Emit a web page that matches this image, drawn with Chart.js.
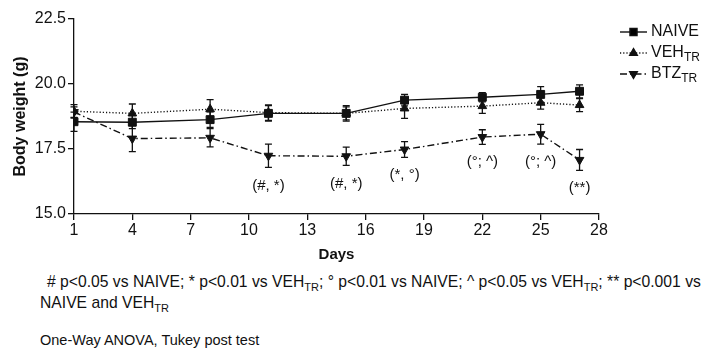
<!DOCTYPE html>
<html>
<head>
<meta charset="utf-8">
<script src="https://cdn.jsdelivr.net/npm/chart.js@4"></script>
<style>
  html, body { margin: 0; padding: 0; background: #fff; }
  body { width: 704px; height: 350px; position: relative; overflow: hidden; font-family: "Liberation Sans", Arial, sans-serif; color: #111; }
  #wrap { position: absolute; left: 0; top: 0; width: 704px; height: 264px; }
  .note { position: absolute; left: 40px; color: #111; }
  .note sub { font-size: 11px; vertical-align: -4px; line-height: 0; }
  #n1 { top: 271px; font-size: 15.7px; line-height: 21px; white-space: nowrap; }
  #n1 .first { padding-left: 7px; }
  #n2 { top: 330px; font-size: 14.5px; line-height: 20px; }
</style>
</head>
<body>
<div id="wrap"><canvas id="c" width="704" height="264"></canvas></div>
<div class="note" id="n1"><span class="first"># p&lt;0.05 vs NAIVE; * p&lt;0.01 vs VEH<sub>TR</sub>; ° p&lt;0.01 vs NAIVE; ^ p&lt;0.05 vs VEH<sub>TR</sub>; ** p&lt;0.001 vs</span><br>NAIVE and VEH<sub>TR</sub></div>
<div class="note" id="n2">One-Way ANOVA, Tukey post test</div>
<script>
const days = [1, 4, 8, 11, 15, 18, 22, 25, 27];
const naive = [18.55, 18.53, 18.63, 18.87, 18.87, 19.38, 19.49, 19.6, 19.72];
const veh   = [18.95, 18.87, 19.03, 18.9, 18.87, 19.06, 19.15, 19.28, 19.19];
const btz   = [18.92, 17.9, 17.93, 17.24, 17.22, 17.48, 17.96, 18.07, 17.08];
const naiveErr = [0.37, 0.25, 0.3, 0.3, 0.25, 0.22, 0.18, 0.3, 0.25];
const vehErr   = [0.26, 0.36, 0.37, 0.3, 0.3, 0.38, 0.28, 0.25, 0.25];
const btzErr   = [0.2, 0.5, 0.35, 0.45, 0.35, 0.3, 0.28, 0.38, 0.4];
const btzMarks = ["", "", "", "(#, *)", "(#, *)", "(*, °)", "(°; ^)", "(°; ^)", "(**)"];
const xTicks = [1, 4, 7, 10, 13, 16, 19, 22, 25, 28];
const yTicks = [15.0, 17.5, 20.0, 22.5];
const seriesNames = [["NAIVE", ""], ["VEH", "TR"], ["BTZ", "TR"]];

const FONT = '"Liberation Sans", Arial, sans-serif';
const INK = '#111';

function pts(arr) { return days.map((d, i) => ({ x: d, y: arr[i] })); }

const datasets = [
  { label: 'NAIVE', data: pts(naive), err: naiveErr, borderColor: INK, backgroundColor: INK, borderWidth: 1.4,
    borderDash: [], pointStyle: 'rect', pointRadius: 5.6, pointRotation: 0 },
  { label: 'VEH_TR', data: pts(veh), err: vehErr, borderColor: INK, backgroundColor: INK, borderWidth: 1.4,
    borderDash: [1.2, 2], pointStyle: 'triangle', pointRadius: 5, pointRotation: 0 },
  { label: 'BTZ_TR', data: pts(btz), err: btzErr, borderColor: INK, backgroundColor: INK, borderWidth: 1.4,
    borderDash: [7, 3, 1.5, 3], pointStyle: 'triangle', pointRadius: 5, pointRotation: 180 }
];
datasets.forEach(d => { d.fill = false; d.tension = 0; d.pointBorderWidth = 1; d.pointBorderColor = INK; d.pointBackgroundColor = INK; });

const errorBars = {
  id: 'errorBars',
  beforeDatasetsDraw(chart) {
    const { ctx, scales: { x, y } } = chart;
    ctx.save();
    ctx.strokeStyle = INK;
    ctx.lineWidth = 1.3;
    ctx.setLineDash([]);
    chart.data.datasets.forEach(ds => {
      ds.data.forEach((p, i) => {
        const px = x.getPixelForValue(p.x);
        const top = y.getPixelForValue(p.y + ds.err[i]);
        const bot = y.getPixelForValue(p.y - ds.err[i]);
        ctx.beginPath();
        ctx.moveTo(px, top); ctx.lineTo(px, bot);
        ctx.moveTo(px - 3.5, top); ctx.lineTo(px + 3.5, top);
        ctx.moveTo(px - 3.5, bot); ctx.lineTo(px + 3.5, bot);
        ctx.stroke();
      });
    });
    ctx.restore();
  }
};

const sigLabels = {
  id: 'sigLabels',
  afterDatasetsDraw(chart) {
    const { ctx, scales: { x, y } } = chart;
    ctx.save();
    ctx.fillStyle = INK;
    ctx.font = '15px ' + FONT;
    ctx.textAlign = 'center';
    ctx.textBaseline = 'middle';
    btzMarks.forEach((t, i) => {
      if (!t) return;
      const px = x.getPixelForValue(days[i]);
      const py = y.getPixelForValue(btz[i] - btzErr[i]) + 18;
      ctx.fillText(t, px, py);
    });
    ctx.restore();
  }
};

const sideLegend = {
  id: 'sideLegend',
  afterDraw(chart) {
    const { ctx } = chart;
    ctx.save();
    const x0 = 620, x1 = 647, tx = 651;
    const ys = [32, 53, 74];
    chart.data.datasets.forEach((ds, i) => {
      const yy = ys[i];
      ctx.strokeStyle = INK;
      ctx.lineWidth = ds.borderWidth;
      ctx.setLineDash(ds.borderDash);
      ctx.beginPath(); ctx.moveTo(x0, yy); ctx.lineTo(x1, yy); ctx.stroke();
      ctx.setLineDash([]);
      Chart.helpers.drawPoint(ctx, { pointStyle: ds.pointStyle, rotation: ds.pointRotation, radius: ds.pointRadius - 0.6, borderWidth: 1 }, (x0 + x1) / 2, yy);
      ctx.fillStyle = INK;
      ctx.textBaseline = 'middle';
      ctx.textAlign = 'left';
      ctx.font = '16px ' + FONT;
      const [main, sub] = seriesNames[i];
      ctx.fillText(main, tx, yy);
      if (sub) {
        const w = ctx.measureText(main).width;
        ctx.font = '12px ' + FONT;
        ctx.fillText(sub, tx + w, yy + 5);
      }
    });
    ctx.restore();
  }
};

new Chart(document.getElementById('c'), {
  type: 'line',
  data: { datasets },
  plugins: [errorBars, sigLabels, sideLegend],
  options: {
    responsive: false,
    animation: false,
    layout: { padding: { top: 19, right: 105, left: 0, bottom: 0 } },
    plugins: { legend: { display: false }, tooltip: { enabled: false } },
    elements: { point: { hoverRadius: 5 } },
    scales: {
      x: {
        type: 'linear', min: 1, max: 28,
        afterBuildTicks: s => { s.ticks = xTicks.map(v => ({ value: v })); },
        afterFit: s => { s.height = 50; },
        ticks: { color: INK, font: { family: FONT, size: 16 }, padding: 1, maxRotation: 0, autoSkip: false },
        grid: { drawOnChartArea: false, drawTicks: true, tickLength: 6, color: INK, lineWidth: 1.3 },
        border: { display: true, color: INK, width: 1.3 },
        title: { display: true, text: 'Days', color: INK, font: { family: FONT, size: 15, weight: 'bold' }, padding: { top: 2, bottom: 0 } }
      },
      y: {
        min: 15, max: 22.5,
        afterBuildTicks: s => { s.ticks = yTicks.map(v => ({ value: v })); },
        afterFit: s => { s.width = 74; },
        ticks: { color: INK, font: { family: FONT, size: 16 }, padding: 2, callback: v => Number(v).toFixed(1) },
        grid: { drawOnChartArea: false, drawTicks: true, tickLength: 6, color: INK, lineWidth: 1.3 },
        border: { display: true, color: INK, width: 1.3 },
        title: { display: true, text: 'Body weight (g)', color: INK, font: { family: FONT, size: 16, weight: 'bold' }, padding: { top: 11, bottom: 0 } }
      }
    }
  }
});
</script>
</body>
</html>
